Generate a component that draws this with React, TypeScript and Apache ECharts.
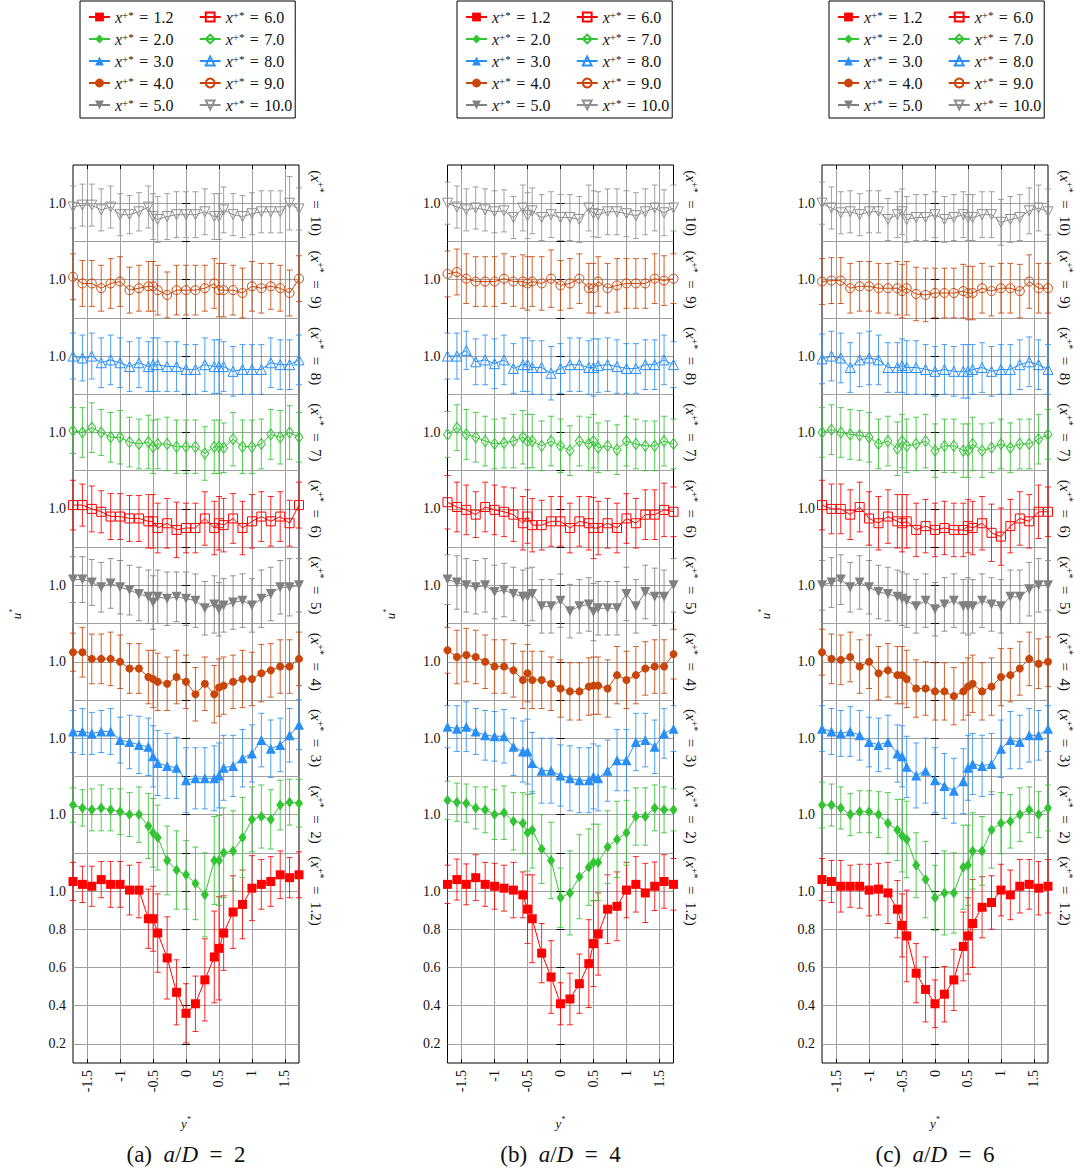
import React, { useEffect, useRef } from 'react';
import * as echarts from 'echarts';

// ---------- data ----------
const Y_STAR = [-1.714, -1.571, -1.429, -1.286, -1.143, -1.0, -0.857, -0.714, -0.571, -0.5, -0.429, -0.286, -0.143, 0, 0.143, 0.286, 0.429, 0.5, 0.571, 0.714, 0.857, 1.0, 1.143, 1.286, 1.429, 1.571, 1.714];

const X_PLUS = ['1.2', '2.0', '3.0', '4.0', '5.0', '6.0', '7.0', '8.0', '9.0', '10.0'];
const X_PLUS_SHORT = ['1.2', '2', '3', '4', '5', '6', '7', '8', '9', '10'];
const OFFSETS = [0, 0.4, 0.8, 1.2, 1.6, 2.0, 2.4, 2.8, 3.2, 3.6];
const PANEL_LETTERS = ['(a)', '(b)', '(c)'];
const A_OVER_D = ['2', '4', '6'];

const Y_TICKS = [0.2, 0.4, 0.6, 0.8, 1.0, 1.2, 1.4, 1.6, 1.8, 2.0, 2.2, 2.4, 2.6, 2.8, 3.0, 3.2, 3.4, 3.6, 3.8, 4.0, 4.2, 4.4, 4.6];
const Y_LABEL_VALUES = [0.2, 0.4, 0.6, 0.8, 1.0, 1.4, 1.8, 2.2, 2.6, 3.0, 3.4, 3.8, 4.2, 4.6];
const Y_LABEL_TEXTS = ['0.2', '0.4', '0.6', '0.8', '1.0', '1.0', '1.0', '1.0', '1.0', '1.0', '1.0', '1.0', '1.0', '1.0'];
const X_TICKS = [-1.5, -1, -0.5, 0, 0.5, 1, 1.5];
const X_TICK_TEXTS = ['-1.5', '-1', '-0.5', '0', '0.5', '1', '1.5'];

// panel (a) a/D = 2
const uA12 = [1.05, 1.035, 1.025, 1.06, 1.035, 1.035, 1.005, 1.005, 0.855, 0.855, 0.78, 0.65, 0.47, 0.36, 0.41, 0.535, 0.655, 0.70, 0.78, 0.89, 0.93, 1.015, 1.035, 1.05, 1.085, 1.07, 1.085];
const eA12 = [0.10, 0.095, 0.105, 0.095, 0.12, 0.12, 0.13, 0.145, 0.155, 0.17, 0.205, 0.215, 0.17, 0.155, 0.145, 0.215, 0.24, 0.27, 0.195, 0.19, 0.18, 0.17, 0.13, 0.13, 0.125, 0.105, 0.12];
const uA2 = [1.05, 1.035, 1.025, 1.035, 1.025, 1.015, 1.0, 1.0, 0.94, 0.905, 0.88, 0.76, 0.71, 0.685, 0.64, 0.58, 0.76, 0.76, 0.80, 0.81, 0.88, 0.975, 0.99, 0.975, 1.05, 1.065, 1.06];
const eA2 = [0.09, 0.095, 0.11, 0.12, 0.11, 0.12, 0.115, 0.145, 0.17, 0.18, 0.17, 0.18, 0.205, 0.18, 0.19, 0.22, 0.23, 0.235, 0.235, 0.21, 0.21, 0.17, 0.165, 0.155, 0.13, 0.12, 0.125];
const uA3 = [1.035, 1.035, 1.025, 1.035, 1.035, 0.99, 0.98, 0.965, 0.955, 0.905, 0.87, 0.855, 0.845, 0.78, 0.79, 0.79, 0.79, 0.805, 0.845, 0.855, 0.895, 0.92, 0.99, 0.945, 0.965, 1.015, 1.07];
const eA3 = [0.11, 0.12, 0.11, 0.11, 0.12, 0.12, 0.14, 0.15, 0.15, 0.16, 0.17, 0.17, 0.16, 0.17, 0.16, 0.16, 0.17, 0.17, 0.17, 0.16, 0.15, 0.15, 0.14, 0.15, 0.14, 0.14, 0.13];
const uA4 = [1.05, 1.05, 1.015, 1.015, 1.015, 1.0, 0.965, 0.965, 0.92, 0.91, 0.895, 0.885, 0.92, 0.895, 0.83, 0.885, 0.83, 0.865, 0.875, 0.895, 0.91, 0.91, 0.94, 0.955, 0.975, 0.975, 1.015];
const eA4 = [0.10, 0.13, 0.13, 0.13, 0.14, 0.14, 0.13, 0.13, 0.14, 0.15, 0.15, 0.14, 0.14, 0.14, 0.14, 0.14, 0.15, 0.15, 0.15, 0.14, 0.15, 0.14, 0.15, 0.14, 0.14, 0.14, 0.14];
const uA5 = [1.03, 1.03, 1.015, 0.99, 1.01, 0.99, 0.975, 0.955, 0.94, 0.91, 0.94, 0.93, 0.94, 0.93, 0.92, 0.88, 0.90, 0.875, 0.895, 0.91, 0.92, 0.895, 0.93, 0.955, 0.99, 0.99, 1.0];
const eA5 = [0.12, 0.12, 0.12, 0.13, 0.13, 0.14, 0.13, 0.14, 0.14, 0.14, 0.14, 0.14, 0.13, 0.14, 0.14, 0.14, 0.15, 0.14, 0.14, 0.14, 0.14, 0.14, 0.15, 0.14, 0.14, 0.15, 0.14];
const uA6 = [1.02, 1.02, 1.0, 0.985, 0.96, 0.96, 0.95, 0.95, 0.935, 0.935, 0.90, 0.925, 0.89, 0.90, 0.90, 0.95, 0.90, 0.925, 0.915, 0.95, 0.90, 0.935, 0.96, 0.935, 0.96, 0.925, 1.02];
const eA6 = [0.13, 0.11, 0.12, 0.11, 0.12, 0.12, 0.12, 0.12, 0.14, 0.14, 0.13, 0.13, 0.145, 0.13, 0.13, 0.14, 0.14, 0.14, 0.14, 0.13, 0.14, 0.14, 0.13, 0.13, 0.13, 0.12, 0.12];
const uA7 = [1.01, 1.0, 1.025, 1.0, 0.975, 0.975, 0.95, 0.94, 0.95, 0.925, 0.94, 0.94, 0.925, 0.925, 0.925, 0.89, 0.925, 0.925, 0.92, 0.965, 0.925, 0.925, 0.94, 0.99, 0.975, 1.0, 0.975];
const eA7 = [0.12, 0.13, 0.13, 0.12, 0.13, 0.14, 0.13, 0.13, 0.14, 0.14, 0.13, 0.14, 0.14, 0.14, 0.14, 0.14, 0.14, 0.14, 0.13, 0.14, 0.14, 0.14, 0.13, 0.13, 0.14, 0.14, 0.13];
const uA8 = [1.0, 0.99, 1.0, 0.965, 0.98, 0.965, 0.945, 0.965, 0.945, 0.955, 0.955, 0.945, 0.945, 0.93, 0.93, 0.955, 0.945, 0.945, 0.945, 0.92, 0.93, 0.93, 0.93, 0.965, 0.955, 0.955, 0.98];
const eA8 = [0.12, 0.12, 0.12, 0.13, 0.13, 0.13, 0.13, 0.13, 0.13, 0.14, 0.14, 0.13, 0.13, 0.13, 0.13, 0.14, 0.14, 0.14, 0.13, 0.13, 0.13, 0.13, 0.13, 0.13, 0.13, 0.13, 0.13];
const uA9 = [1.015, 0.98, 0.98, 0.955, 0.98, 0.99, 0.945, 0.955, 0.965, 0.965, 0.945, 0.92, 0.945, 0.945, 0.945, 0.955, 0.98, 0.945, 0.945, 0.945, 0.93, 0.965, 0.955, 0.965, 0.955, 0.93, 1.005];
const eA9 = [0.12, 0.12, 0.12, 0.12, 0.13, 0.13, 0.12, 0.12, 0.13, 0.13, 0.13, 0.12, 0.13, 0.13, 0.13, 0.12, 0.13, 0.14, 0.14, 0.13, 0.13, 0.13, 0.13, 0.12, 0.12, 0.12, 0.12];
const uA10 = [0.98, 0.99, 0.99, 0.965, 0.98, 0.94, 0.94, 0.955, 0.98, 0.93, 0.915, 0.93, 0.94, 0.94, 0.94, 0.955, 0.93, 0.93, 0.965, 0.94, 0.93, 0.945, 0.955, 0.955, 0.955, 1.0, 0.97];
const eA10 = [0.11, 0.11, 0.11, 0.11, 0.11, 0.11, 0.10, 0.10, 0.11, 0.12, 0.12, 0.12, 0.12, 0.12, 0.12, 0.12, 0.12, 0.12, 0.12, 0.11, 0.11, 0.11, 0.11, 0.11, 0.11, 0.14, 0.11];

// panel (b) a/D = 4
const uB12 = [1.035, 1.06, 1.035, 1.07, 1.035, 1.025, 1.015, 1.005, 0.98, 0.905, 0.855, 0.675, 0.55, 0.41, 0.435, 0.515, 0.62, 0.725, 0.775, 0.905, 0.92, 1.005, 1.035, 0.99, 1.025, 1.05, 1.035];
const eB12 = [0.10, 0.107, 0.107, 0.12, 0.115, 0.12, 0.12, 0.145, 0.12, 0.18, 0.23, 0.155, 0.19, 0.11, 0.135, 0.155, 0.23, 0.225, 0.215, 0.18, 0.18, 0.145, 0.145, 0.155, 0.127, 0.14, 0.135];
const uB2 = [1.075, 1.065, 1.06, 1.035, 1.025, 1.0, 1.01, 0.965, 0.955, 0.905, 0.92, 0.82, 0.76, 0.565, 0.59, 0.675, 0.725, 0.75, 0.75, 0.83, 0.87, 0.905, 0.99, 0.99, 1.035, 1.025, 1.025];
const eB2 = [0.10, 0.10, 0.10, 0.11, 0.12, 0.13, 0.14, 0.15, 0.16, 0.20, 0.20, 0.18, 0.20, 0.155, 0.22, 0.22, 0.20, 0.20, 0.20, 0.19, 0.20, 0.17, 0.15, 0.15, 0.12, 0.12, 0.11];
const uB3 = [1.06, 1.05, 1.06, 1.035, 1.015, 1.01, 1.01, 0.955, 0.93, 0.93, 0.87, 0.83, 0.83, 0.805, 0.79, 0.78, 0.78, 0.80, 0.79, 0.83, 0.885, 0.885, 0.98, 0.99, 0.955, 1.025, 1.05];
const eB3 = [0.11, 0.12, 0.13, 0.12, 0.13, 0.13, 0.14, 0.15, 0.16, 0.17, 0.16, 0.17, 0.17, 0.16, 0.17, 0.17, 0.17, 0.17, 0.17, 0.16, 0.16, 0.16, 0.15, 0.14, 0.14, 0.13, 0.12];
const uB4 = [1.06, 1.025, 1.035, 1.025, 1.0, 0.975, 0.975, 0.955, 0.905, 0.94, 0.905, 0.905, 0.885, 0.86, 0.845, 0.845, 0.87, 0.875, 0.875, 0.86, 0.93, 0.905, 0.93, 0.965, 0.975, 0.975, 1.04];
const eB4 = [0.12, 0.14, 0.14, 0.14, 0.14, 0.14, 0.14, 0.14, 0.15, 0.15, 0.15, 0.15, 0.14, 0.15, 0.15, 0.15, 0.15, 0.15, 0.15, 0.15, 0.15, 0.15, 0.15, 0.14, 0.14, 0.14, 0.13];
const uB5 = [1.03, 1.015, 1.0, 0.99, 1.0, 0.965, 0.975, 0.955, 0.94, 0.94, 0.955, 0.89, 0.89, 0.92, 0.865, 0.89, 0.90, 0.86, 0.88, 0.88, 0.88, 0.955, 0.89, 0.965, 0.94, 0.94, 1.0];
const eB5 = [0.13, 0.14, 0.14, 0.14, 0.14, 0.14, 0.14, 0.14, 0.14, 0.15, 0.14, 0.14, 0.14, 0.14, 0.14, 0.14, 0.14, 0.15, 0.14, 0.14, 0.14, 0.14, 0.14, 0.14, 0.15, 0.14, 0.14];
const uB6 = [1.035, 1.01, 0.995, 0.97, 1.01, 0.995, 0.985, 0.97, 0.925, 0.96, 0.915, 0.915, 0.935, 0.935, 0.90, 0.935, 0.925, 0.90, 0.90, 0.925, 0.90, 0.95, 0.925, 0.97, 0.97, 0.995, 0.985];
const eB6 = [0.14, 0.13, 0.13, 0.12, 0.13, 0.13, 0.13, 0.14, 0.14, 0.14, 0.14, 0.13, 0.13, 0.13, 0.13, 0.13, 0.14, 0.16, 0.14, 0.13, 0.13, 0.13, 0.13, 0.13, 0.13, 0.14, 0.13];
const uB7 = [0.99, 1.025, 0.99, 0.975, 0.955, 0.94, 0.945, 0.955, 0.975, 0.955, 0.955, 0.93, 0.955, 0.93, 0.905, 0.955, 0.94, 0.955, 0.92, 0.93, 0.91, 0.955, 0.94, 0.93, 0.93, 0.955, 0.94];
const eB7 = [0.12, 0.12, 0.13, 0.13, 0.13, 0.13, 0.13, 0.14, 0.14, 0.14, 0.14, 0.13, 0.13, 0.14, 0.13, 0.13, 0.14, 0.14, 0.13, 0.13, 0.13, 0.13, 0.13, 0.13, 0.13, 0.13, 0.13];
const uB8 = [1.0, 1.0, 1.03, 0.97, 0.98, 0.96, 0.98, 0.935, 0.955, 0.955, 0.94, 0.94, 0.91, 0.935, 0.955, 0.955, 0.94, 0.94, 0.95, 0.955, 0.945, 0.935, 0.935, 0.955, 0.955, 0.98, 0.955];
const eB8 = [0.12, 0.12, 0.10, 0.12, 0.13, 0.13, 0.13, 0.13, 0.14, 0.14, 0.14, 0.14, 0.14, 0.13, 0.14, 0.14, 0.14, 0.15, 0.14, 0.14, 0.14, 0.13, 0.13, 0.13, 0.13, 0.13, 0.12];
const uB9 = [1.03, 1.04, 1.005, 0.99, 0.99, 0.99, 1.005, 0.99, 0.99, 0.98, 0.99, 0.98, 1.005, 0.97, 0.98, 1.005, 0.955, 0.955, 0.99, 0.955, 0.97, 0.98, 0.98, 0.98, 1.005, 0.995, 1.005];
const eB9 = [0.12, 0.12, 0.13, 0.13, 0.13, 0.13, 0.13, 0.13, 0.14, 0.14, 0.13, 0.14, 0.15, 0.13, 0.13, 0.13, 0.13, 0.13, 0.13, 0.13, 0.14, 0.13, 0.13, 0.13, 0.13, 0.13, 0.13];
const uB10 = [1.0, 0.98, 0.965, 0.975, 0.965, 0.955, 0.96, 0.925, 0.975, 0.935, 0.96, 0.925, 0.94, 0.925, 0.925, 0.915, 0.975, 0.945, 0.94, 0.955, 0.955, 0.945, 0.935, 0.955, 0.975, 0.95, 0.975];
const eB10 = [0.11, 0.11, 0.11, 0.11, 0.11, 0.11, 0.11, 0.11, 0.12, 0.12, 0.12, 0.12, 0.12, 0.12, 0.12, 0.12, 0.12, 0.12, 0.12, 0.12, 0.12, 0.12, 0.12, 0.12, 0.12, 0.12, 0.12];

// panel (c) a/D = 6
const uC12 = [1.06, 1.05, 1.025, 1.025, 1.025, 1.005, 1.01, 0.99, 0.905, 0.82, 0.765, 0.57, 0.485, 0.41, 0.46, 0.535, 0.71, 0.765, 0.83, 0.915, 0.94, 1.005, 0.98, 1.025, 1.035, 1.015, 1.025];
const eC12 = [0.11, 0.11, 0.135, 0.11, 0.115, 0.135, 0.135, 0.16, 0.15, 0.165, 0.24, 0.155, 0.17, 0.125, 0.145, 0.16, 0.18, 0.20, 0.23, 0.16, 0.14, 0.135, 0.13, 0.14, 0.13, 0.14, 0.14];
const uC2 = [1.05, 1.05, 1.035, 1.0, 1.015, 1.015, 1.0, 0.955, 0.92, 0.89, 0.87, 0.735, 0.66, 0.565, 0.59, 0.59, 0.725, 0.735, 0.81, 0.81, 0.92, 0.955, 0.965, 1.0, 1.025, 1.0, 1.035];
const eC2 = [0.12, 0.11, 0.11, 0.11, 0.11, 0.11, 0.12, 0.16, 0.16, 0.19, 0.20, 0.17, 0.20, 0.17, 0.22, 0.21, 0.22, 0.21, 0.20, 0.18, 0.20, 0.16, 0.14, 0.14, 0.12, 0.12, 0.12];
const uC3 = [1.05, 1.035, 1.025, 1.035, 1.015, 0.98, 0.965, 0.98, 0.92, 0.905, 0.85, 0.805, 0.83, 0.78, 0.75, 0.725, 0.775, 0.845, 0.865, 0.855, 0.865, 0.945, 0.99, 0.98, 1.015, 1.015, 1.05];
const eC3 = [0.12, 0.12, 0.12, 0.13, 0.13, 0.13, 0.14, 0.14, 0.15, 0.16, 0.16, 0.17, 0.17, 0.17, 0.17, 0.17, 0.17, 0.17, 0.16, 0.16, 0.16, 0.15, 0.15, 0.14, 0.14, 0.13, 0.12];
const uC4 = [1.05, 1.015, 1.01, 1.025, 0.975, 1.0, 0.94, 0.955, 0.93, 0.93, 0.91, 0.86, 0.86, 0.845, 0.845, 0.82, 0.845, 0.87, 0.885, 0.845, 0.87, 0.92, 0.93, 0.965, 1.015, 0.99, 1.0];
const eC4 = [0.12, 0.13, 0.13, 0.13, 0.14, 0.14, 0.14, 0.14, 0.15, 0.15, 0.15, 0.15, 0.14, 0.15, 0.15, 0.15, 0.15, 0.15, 0.15, 0.15, 0.15, 0.15, 0.14, 0.14, 0.14, 0.13, 0.13];
const uC5 = [1.0, 1.015, 1.03, 0.99, 1.015, 0.99, 0.965, 0.955, 0.94, 0.93, 0.92, 0.89, 0.92, 0.875, 0.90, 0.92, 0.89, 0.89, 0.89, 0.92, 0.90, 0.89, 0.94, 0.94, 0.98, 1.0, 1.0];
const eC5 = [0.13, 0.13, 0.13, 0.13, 0.14, 0.14, 0.14, 0.14, 0.14, 0.14, 0.14, 0.14, 0.14, 0.14, 0.14, 0.14, 0.14, 0.15, 0.14, 0.14, 0.14, 0.14, 0.14, 0.14, 0.14, 0.14, 0.13];
const uC6 = [1.02, 1.0, 1.0, 0.97, 1.01, 0.95, 0.925, 0.96, 0.935, 0.925, 0.935, 0.89, 0.91, 0.89, 0.90, 0.89, 0.89, 0.91, 0.90, 0.925, 0.875, 0.855, 0.91, 0.95, 0.935, 0.985, 0.985];
const eC6 = [0.13, 0.13, 0.13, 0.13, 0.13, 0.14, 0.14, 0.14, 0.14, 0.15, 0.14, 0.14, 0.14, 0.14, 0.14, 0.14, 0.14, 0.14, 0.14, 0.14, 0.15, 0.15, 0.14, 0.14, 0.14, 0.14, 0.13];
const uC7 = [1.0, 1.015, 1.0, 0.99, 0.985, 0.975, 0.94, 0.955, 0.915, 0.955, 0.93, 0.94, 0.955, 0.905, 0.93, 0.93, 0.905, 0.905, 0.94, 0.905, 0.92, 0.94, 0.92, 0.94, 0.94, 0.965, 0.99];
const eC7 = [0.13, 0.13, 0.13, 0.13, 0.13, 0.13, 0.13, 0.13, 0.14, 0.14, 0.14, 0.14, 0.14, 0.14, 0.14, 0.14, 0.14, 0.14, 0.14, 0.14, 0.13, 0.13, 0.13, 0.13, 0.13, 0.13, 0.13];
const uC8 = [0.985, 1.0, 0.99, 0.94, 0.98, 0.99, 0.98, 0.94, 0.94, 0.95, 0.94, 0.94, 0.93, 0.92, 0.93, 0.92, 0.92, 0.92, 0.93, 0.94, 0.92, 0.93, 0.93, 0.955, 0.97, 0.955, 0.93];
const eC8 = [0.13, 0.13, 0.13, 0.13, 0.14, 0.14, 0.13, 0.13, 0.13, 0.14, 0.14, 0.14, 0.13, 0.13, 0.13, 0.13, 0.14, 0.14, 0.13, 0.13, 0.13, 0.13, 0.13, 0.13, 0.13, 0.13, 0.13];
const uC9 = [0.99, 0.995, 0.995, 0.955, 0.965, 0.965, 0.955, 0.955, 0.955, 0.94, 0.955, 0.925, 0.92, 0.93, 0.93, 0.93, 0.94, 0.93, 0.93, 0.955, 0.94, 0.955, 0.955, 0.94, 0.99, 0.955, 0.955];
const eC9 = [0.12, 0.12, 0.12, 0.13, 0.13, 0.13, 0.13, 0.13, 0.14, 0.14, 0.14, 0.14, 0.14, 0.13, 0.13, 0.13, 0.14, 0.14, 0.14, 0.13, 0.13, 0.13, 0.13, 0.14, 0.14, 0.13, 0.13];
const uC10 = [1.0, 0.975, 0.95, 0.955, 0.94, 0.955, 0.955, 0.915, 0.94, 0.955, 0.915, 0.925, 0.925, 0.94, 0.915, 0.925, 0.94, 0.925, 0.925, 0.94, 0.94, 0.90, 0.915, 0.925, 0.96, 0.975, 0.955];
const eC10 = [0.11, 0.11, 0.11, 0.11, 0.11, 0.11, 0.11, 0.11, 0.12, 0.12, 0.12, 0.12, 0.12, 0.12, 0.12, 0.12, 0.12, 0.12, 0.12, 0.12, 0.12, 0.12, 0.12, 0.12, 0.12, 0.12, 0.12];

const PANEL_U = [
  [uA12, uA2, uA3, uA4, uA5, uA6, uA7, uA8, uA9, uA10],
  [uB12, uB2, uB3, uB4, uB5, uB6, uB7, uB8, uB9, uB10],
  [uC12, uC2, uC3, uC4, uC5, uC6, uC7, uC8, uC9, uC10],
];
const PANEL_E = [
  [eA12, eA2, eA3, eA4, eA5, eA6, eA7, eA8, eA9, eA10],
  [eB12, eB2, eB3, eB4, eB5, eB6, eB7, eB8, eB9, eB10],
  [eC12, eC2, eC3, eC4, eC5, eC6, eC7, eC8, eC9, eC10],
];

// ---------- styles ----------
const FONT = 'Liberation Serif';
const TXT = '#111';
const COLORS = ['#ff0000', '#33c433', '#2a8ff5', '#c8460a', '#808080', '#ff0000', '#33c433', '#2a8ff5', '#c8460a', '#8f8f8f'];
const SYMBOLS = ['rect', 'diamond', 'triangle', 'circle', 'triangle', 'rect', 'diamond', 'triangle', 'circle', 'triangle'];
const SYMBOL_ROT = [0, 0, 0, 0, 180, 0, 0, 0, 0, 180];
const SYMBOL_SIZE: any[] = [9, [8, 11], 10, 8, 10, 9, [8, 11], 10, 9, 10];
const FILLED = [true, true, true, true, true, false, false, false, false, false];
const GRID_LEFTS = [73, 447.5, 822];
const LEGEND_LEFTS = [80, 457, 829];
const GRID_TOP = 165;
const GRID_W = 226;
const GRID_H = 898;
const GRID_COLOR = '#a0a0a0';
const EQ = '\u2002=\u2002';
const LEG_EQ = '\u2004=\u2004';
const COL_GAP = '\u2002\u2002\u2009';

const seriesName = (k: number) => 'x+* = ' + X_PLUS[k];

const legendRich = {
  i: { fontFamily: FONT, fontStyle: 'italic', fontSize: 16, color: TXT },
  s: { fontFamily: FONT, fontSize: 11, lineHeight: 11, verticalAlign: 'top', color: TXT },
  n: { fontFamily: FONT, fontSize: 16, color: TXT },
};

function lookup(vals: number[], texts: string[], v: number) {
  for (let i = 0; i < vals.length; i++) if (Math.abs(vals[i] - v) < 1e-6) return texts[i];
  return '';
}

function buildOption() {
  const grid: any[] = [];
  const xAxis: any[] = [];
  const yAxis: any[] = [];
  const series: any[] = [];
  const legend: any[] = [];
  const graphic: any[] = [];

  for (let p = 0; p < 3; p++) {
    grid.push({
      left: GRID_LEFTS[p], top: GRID_TOP, width: GRID_W, height: GRID_H,
      show: true, borderColor: '#000', borderWidth: 1, backgroundColor: 'transparent',
      containLabel: false, outerBoundsMode: 'none',
    });
    xAxis.push({
      type: 'value', gridIndex: p, position: 'bottom', min: -1.714, max: 1.714,
      axisLine: { show: false },
      axisTick: { show: true, inside: true, length: 4, customValues: X_TICKS, lineStyle: { color: '#000' } },
      axisLabel: {
        show: true, customValues: X_TICKS, rotate: 90, margin: 7,
        fontFamily: FONT, fontSize: 14, color: TXT,
        formatter: (v: number) => lookup(X_TICKS, X_TICK_TEXTS, v),
      },
      splitLine: { show: true, lineStyle: { color: GRID_COLOR, width: 1 } },
      name: '{i|y}{s|*}', nameLocation: 'middle', nameGap: 52,
      nameTextStyle: {
        rich: {
          i: { fontFamily: FONT, fontStyle: 'italic', fontSize: 13, lineHeight: 16, color: TXT },
          s: { fontFamily: FONT, fontSize: 8, lineHeight: 8, verticalAlign: 'top', color: TXT },
        },
      },
    });
    xAxis.push({
      type: 'value', gridIndex: p, position: 'top', min: -1.714, max: 1.714,
      axisLine: { show: false },
      axisTick: { show: true, inside: true, length: 4, customValues: X_TICKS, lineStyle: { color: '#000' } },
      axisLabel: { show: false },
      splitLine: { show: false },
    });
    yAxis.push({
      type: 'value', gridIndex: p, position: 'left', min: 0.1, max: 4.8,
      axisLine: { show: false },
      axisTick: { show: true, inside: true, length: 4, customValues: Y_TICKS, lineStyle: { color: '#000' } },
      axisLabel: {
        show: true, customValues: Y_LABEL_VALUES, margin: 7,
        fontFamily: FONT, fontSize: 14, color: TXT,
        formatter: (v: number) => lookup(Y_LABEL_VALUES, Y_LABEL_TEXTS, v),
      },
      splitLine: { show: true, lineStyle: { color: GRID_COLOR, width: 1 } },
      name: '{i|u}{s|*}', nameLocation: 'middle', nameGap: 49, nameRotate: 90,
      nameTextStyle: {
        rich: {
          i: { fontFamily: FONT, fontStyle: 'italic', fontSize: 13, lineHeight: 16, color: TXT },
          s: { fontFamily: FONT, fontSize: 8, lineHeight: 8, verticalAlign: 'top', color: TXT },
        },
      },
    });
    yAxis.push({
      type: 'value', gridIndex: p, position: 'right', min: 0.1, max: 4.8,
      axisLine: { show: false },
      axisTick: { show: true, inside: true, length: 4, customValues: Y_TICKS, lineStyle: { color: '#000' } },
      axisLabel: {
        show: true, customValues: OFFSETS.map((o) => Math.round((1 + o) * 10) / 10), rotate: -90, margin: 8,
        formatter: (v: number) => {
          const idx = OFFSETS.findIndex((o) => Math.abs(1 + o - v) < 1e-6);
          return '{n|(}{i|x}{s|+*}{n|' + EQ + X_PLUS_SHORT[idx] + ')}';
        },
        rich: {
          i: { fontFamily: FONT, fontStyle: 'italic', fontSize: 15, lineHeight: 18, color: TXT },
          s: { fontFamily: FONT, fontSize: 10, lineHeight: 10, verticalAlign: 'top', color: TXT },
          n: { fontFamily: FONT, fontSize: 15, lineHeight: 18, color: TXT },
        },
      },
      splitLine: { show: false },
    });

    for (let k = 0; k < 10; k++) {
      const u = PANEL_U[p][k];
      const e = PANEL_E[p][k];
      const off = OFFSETS[k];
      const color = COLORS[k];
      series.push({
        type: 'custom',
        xAxisIndex: 2 * p, yAxisIndex: 2 * p,
        silent: true,
        z: 2,
        data: Y_STAR.map((x, j) => [x, u[j] - e[j] + off, u[j] + e[j] + off]),
        encode: { x: 0, y: [1, 2] },
        renderItem: (params: any, api: any) => {
          const x = api.value(0);
          const lo = api.coord([x, api.value(1)]);
          const hi = api.coord([x, api.value(2)]);
          const w = 3;
          const style = { stroke: color, lineWidth: 1, opacity: 0.85 };
          return {
            type: 'group',
            children: [
              { type: 'line', shape: { x1: lo[0], y1: lo[1], x2: hi[0], y2: hi[1] }, style },
              { type: 'line', shape: { x1: lo[0] - w, y1: lo[1], x2: lo[0] + w, y2: lo[1] }, style },
              { type: 'line', shape: { x1: hi[0] - w, y1: hi[1], x2: hi[0] + w, y2: hi[1] }, style },
            ],
          };
        },
      });
      series.push({
        type: 'line',
        name: seriesName(k),
        xAxisIndex: 2 * p, yAxisIndex: 2 * p,
        z: 3,
        clip: false,
        silent: true,
        color,
        data: Y_STAR.map((x, j) => [x, u[j] + off]),
        symbol: SYMBOLS[k],
        symbolRotate: SYMBOL_ROT[k],
        symbolSize: SYMBOL_SIZE[k],
        showSymbol: true,
        showAllSymbol: true,
        lineStyle: { color, width: 1 },
        itemStyle: FILLED[k]
          ? { color, borderWidth: 0 }
          : { color: 'rgba(255,255,255,0)', borderColor: color, borderWidth: 1 },
        emphasis: { disabled: true },
      });
    }

    const order = [0, 5, 1, 6, 2, 7, 3, 8, 4, 9];
    legend.push({
      left: LEGEND_LEFTS[p], top: 1, width: 260,
      orient: 'horizontal',
      data: order.map((k) => seriesName(k)),
      itemWidth: 21, itemHeight: 11, itemGap: 6,
      padding: [8, 3, 5, 8],
      borderColor: '#000', borderWidth: 1, borderRadius: 0,
      backgroundColor: '#fff',
      selectedMode: false,
      symbolRotate: 'inherit',
      formatter: (name: string) => {
        const val = name.split('= ')[1];
        const idx = X_PLUS.indexOf(val);
        const tail = idx < 5 ? COL_GAP : '';
        return '{i|x}{s|+*}{n|' + LEG_EQ + val + tail + '}';
      },
      textStyle: { fontFamily: FONT, fontSize: 16, color: TXT, rich: legendRich },
    });

    graphic.push({
      type: 'text',
      x: GRID_LEFTS[p] + GRID_W / 2,
      y: 1154,
      style: {
        text: PANEL_LETTERS[p] + '\u2002{i|a}/{i|D}' + EQ + A_OVER_D[p],
        fontFamily: FONT, fontSize: 23, fill: TXT,
        align: 'center', verticalAlign: 'middle',
        rich: { i: { fontFamily: FONT, fontStyle: 'italic', fontSize: 23, fill: TXT, color: TXT } },
      },
    });
  }

  return {
    animation: false,
    backgroundColor: '#fff',
    textStyle: { fontFamily: FONT },
    grid, xAxis, yAxis, series, legend, graphic,
  };
}

export default function App() {
  const ref = useRef<HTMLDivElement>(null);
  useEffect(() => {
    if (!ref.current) return;
    const chart = echarts.init(ref.current, null, { renderer: 'svg' });
    chart.setOption(buildOption() as any);
    return () => chart.dispose();
  }, []);
  return (
    <div
      ref={ref}
      style={{ position: 'absolute', left: 0, top: 0, width: 1074, height: 1171, background: '#fff' }}
    />
  );
}
